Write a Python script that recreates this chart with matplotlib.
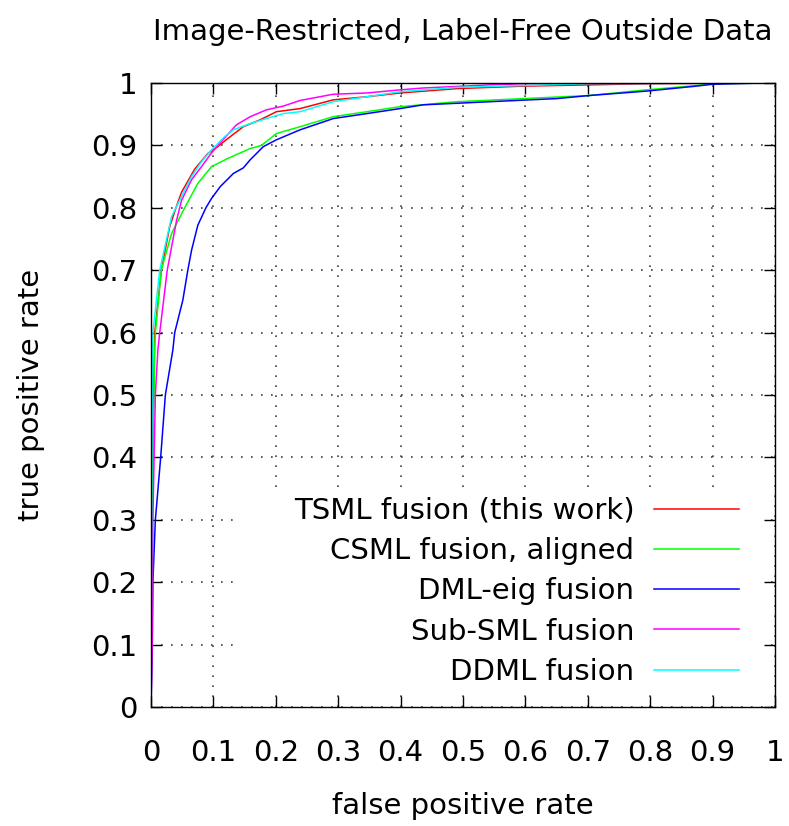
import matplotlib
matplotlib.use("Agg")
import matplotlib.pyplot as plt
from matplotlib.patches import Rectangle

# ROC curves (false positive rate, true positive rate)
tsml_fpr = [0, 0.001, 0.002, 0.003, 0.006, 0.0165, 0.03, 0.04, 0.049, 0.07, 0.091, 0.107, 0.123,
            0.148, 0.175, 0.201, 0.239, 0.292, 0.346, 0.399, 0.49, 0.597, 0.703, 0.8, 1]
tsml_tpr = [0, 0.2, 0.35, 0.45, 0.6, 0.7, 0.77, 0.8, 0.825, 0.862, 0.887, 0.898, 0.911,
            0.93, 0.941, 0.954, 0.959, 0.973, 0.978, 0.984, 0.991, 0.995, 0.997, 0.999, 1]

csml_fpr = [0, 0.001, 0.002, 0.004, 0.006, 0.007, 0.0165, 0.033, 0.054, 0.075, 0.097, 0.123,
            0.159, 0.177, 0.201, 0.239, 0.292, 0.346, 0.399, 0.49, 0.597, 0.703, 0.794,
            0.874, 0.9, 1]
csml_tpr = [0, 0.1, 0.3, 0.45, 0.572, 0.6, 0.7, 0.759, 0.8, 0.839, 0.866, 0.879,
            0.895, 0.9, 0.919, 0.93, 0.946, 0.954, 0.962, 0.97, 0.975, 0.98, 0.989,
            0.996, 0.999, 1]

dmleig_fpr = [0, 0.002, 0.003, 0.007, 0.0155, 0.023, 0.035, 0.038, 0.051, 0.059, 0.065, 0.075,
              0.088, 0.097, 0.111, 0.132, 0.148, 0.159, 0.18, 0.201, 0.239, 0.292, 0.346,
              0.399, 0.436, 0.543, 0.65, 0.703, 0.794, 0.874, 0.9, 0.98, 1]
dmleig_tpr = [0, 0.1, 0.2, 0.3, 0.4, 0.5, 0.572, 0.6, 0.652, 0.7, 0.732, 0.772,
              0.8, 0.815, 0.834, 0.855, 0.864, 0.877, 0.898, 0.909, 0.925, 0.943, 0.951,
              0.959, 0.965, 0.97, 0.975, 0.98, 0.987, 0.995, 0.998, 1.0, 1]

subsml_fpr = [0, 0.002, 0.003, 0.007, 0.011, 0.014, 0.026, 0.041, 0.049, 0.065, 0.081, 0.097,
              0.118, 0.137, 0.159, 0.185, 0.212, 0.239, 0.292, 0.346, 0.399, 0.436, 0.543,
              0.6, 1]
subsml_tpr = [0, 0.1, 0.3, 0.5, 0.572, 0.6, 0.7, 0.78, 0.812, 0.845, 0.866, 0.888,
              0.912, 0.933, 0.946, 0.957, 0.963, 0.972, 0.982, 0.984, 0.989, 0.992, 0.997,
              0.999, 1]

ddml_fpr = [0, 0.001, 0.002, 0.003, 0.014, 0.033, 0.049, 0.065, 0.081, 0.097, 0.118, 0.132,
            0.159, 0.185, 0.212, 0.239, 0.292, 0.346, 0.399, 0.49, 0.597, 0.703, 1]
ddml_tpr = [0, 0.3, 0.5, 0.6, 0.7, 0.786, 0.818, 0.85, 0.874, 0.893, 0.914, 0.925,
            0.935, 0.943, 0.951, 0.954, 0.97, 0.978, 0.986, 0.993, 0.996, 0.999, 1]

labels = ["TSML fusion (this work)", "CSML fusion, aligned", "DML-eig fusion",
          "Sub-SML fusion", "DDML fusion"]
colors = ["#ff0000", "#00ff00", "#0000ff", "#ff00ff", "#00ffff"]
ticks = [0, 0.1, 0.2, 0.3, 0.4, 0.5, 0.6, 0.7, 0.8, 0.9, 1]
tick_labels = ["0", "0.1", "0.2", "0.3", "0.4", "0.5", "0.6", "0.7", "0.8", "0.9", "1"]

plt.rcParams['font.family'] = ['DejaVu Sans']
fs = 21

fig = plt.figure(figsize=(7.89, 8.26), dpi=100)
ax = fig.add_axes([151 / 789, 1 - 707 / 826, 624 / 789, 624 / 826])

series = [(tsml_fpr, tsml_tpr), (csml_fpr, csml_tpr), (dmleig_fpr, dmleig_tpr),
          (subsml_fpr, subsml_tpr), (ddml_fpr, ddml_tpr)]
for (fx, fy), lab, col in zip(series, labels, colors):
    ax.plot(fx, fy, color=col, lw=1.1, label=lab, zorder=2)

ax.set_xlim(0, 1)
ax.set_ylim(0, 1)
ax.set_xticks(ticks)
ax.set_yticks(ticks)
ax.set_xticklabels(tick_labels)
ax.set_yticklabels(tick_labels)
ax.tick_params(direction='in', length=8, width=1.0, top=True, right=True,
               labelsize=fs, color='black')
ax.tick_params(axis='x', pad=23)
ax.tick_params(axis='y', pad=10)
for sp in ax.spines.values():
    sp.set_linewidth(1.0)

ax.set_axisbelow(True)
ax.grid(True, color='#404040', linestyle=(0, (1, 5)), linewidth=1.2)

# gnuplot leaves the key area free of grid dots
ax.add_patch(Rectangle((0.131, 0.019), 0.85, 0.329, facecolor='white',
                       edgecolor='none', zorder=1))

ax.set_title("Image-Restricted, Label-Free Outside Data", fontsize=fs, pad=31)
ax.set_xlabel("false positive rate", fontsize=fs, labelpad=18)
ax.set_ylabel("true positive rate", fontsize=fs, labelpad=33)

leg = ax.legend(loc='lower right', bbox_to_anchor=(0.942, 0.034), frameon=False,
                fontsize=fs, markerfirst=False, handlelength=2.9, handletextpad=0.68,
                labelspacing=0.42, borderpad=0, borderaxespad=0)
for col in leg._legend_box._children[1]._children:
    col.align = 'right'

fig.savefig("out.png", dpi=100)
